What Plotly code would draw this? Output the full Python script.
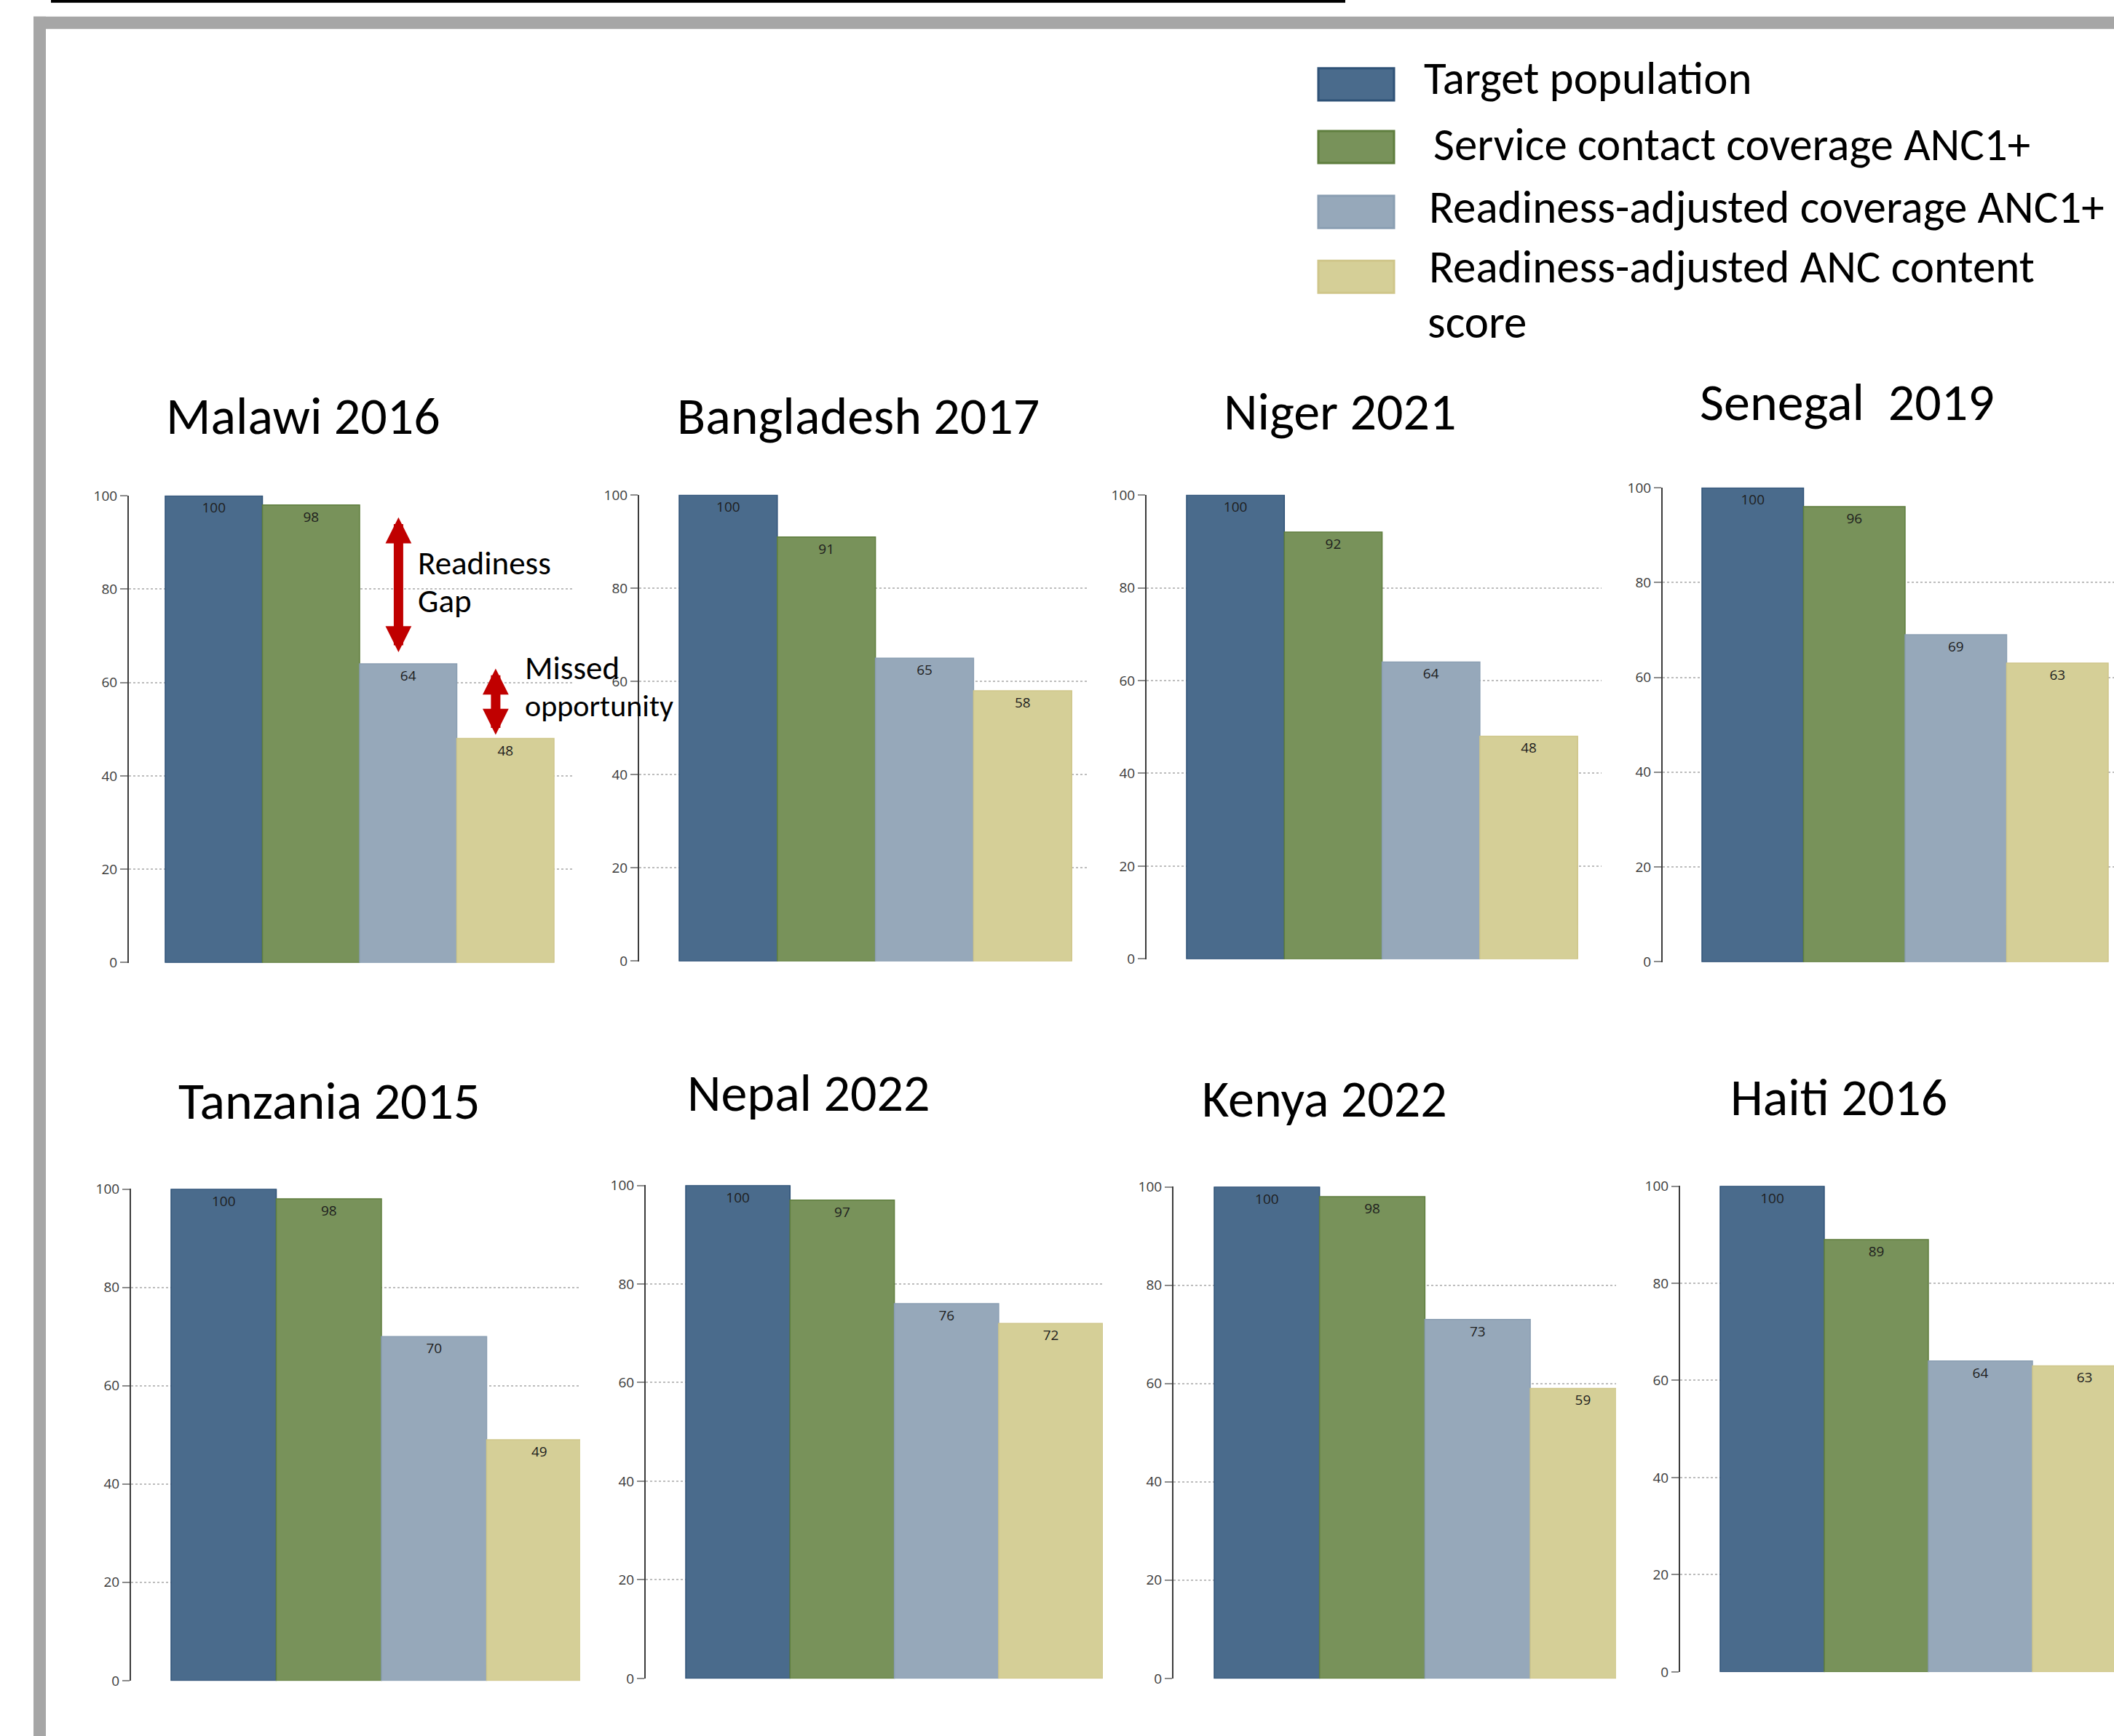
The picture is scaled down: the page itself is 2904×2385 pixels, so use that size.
import plotly.graph_objects as go

# ---------------- data ----------------
countries = ["Malawi 2016", "Bangladesh 2017", "Niger 2021", "Senegal\u00a0 2019",
             "Tanzania 2015", "Nepal 2022", "Kenya 2022", "Haiti 2016"]
series_names = ["Target population", "Service contact coverage ANC1+",
                "Readiness-adjusted coverage ANC1+", "Readiness-adjusted ANC content score"]
target_population = [100, 100, 100, 100, 100, 100, 100, 100]
service_contact_anc1 = [98, 91, 92, 96, 98, 97, 98, 89]
readiness_adjusted_anc1 = [64, 65, 64, 69, 70, 76, 73, 64]
readiness_adjusted_content = [48, 58, 48, 63, 49, 72, 59, 63]
y_ticks = [0, 20, 40, 60, 80, 100]

# ---------------- styles ----------------
W, H = 2904, 2385
FONT = "Carlito, Calibri, Lato, sans-serif"
SMALL = "Open Sans, Segoe UI, sans-serif"
fills = ["#4a6b8c", "#78925a", "#96a8ba", "#d5cf97"]
edges = ["#2f5277", "#5f7e3e", "#8a9eb2", "#cfc68a"]
series_values = [target_population, service_contact_anc1,
                 readiness_adjusted_anc1, readiness_adjusted_content]

# panel geometry in pixels
panels = [
    dict(ax=177, b0=227, bw=133.5, right=787, top=681, bottom=1322, tx=416, ty=571),
    dict(ax=878, b0=933, bw=134.8, right=1493, top=680, bottom=1320, tx=1179, ty=571),
    dict(ax=1575, b0=1630, bw=134.3, right=2200, top=680, bottom=1317, tx=1840, ty=565),
    dict(ax=2284, b0=2338, bw=139.5, right=2904, top=670, bottom=1321, tx=2537, ty=552),
    dict(ax=180, b0=235, bw=144.5, right=797, top=1632, bottom=2307, tx=452, ty=1511),
    dict(ax=887, b0=942, bw=143.3, right=1515, top=1627, bottom=2304, tx=1110, ty=1500),
    dict(ax=1612, b0=1668, bw=144.7, right=2220, top=1629, bottom=2304, tx=1820, ty=1508),
    dict(ax=2308, b0=2363, bw=143.0, right=2904, top=1628, bottom=2295, tx=2526, ty=1506),
]

def px(x):
    return x / W

def py(y):
    # vertical placement, compensated for the page capture offset/scale
    return 1 - ((y - 14.3) / 0.988) / H

fig = go.Figure()
layout = {}
annotations = []
shapes = []

for i, (name, p) in enumerate(zip(countries, panels)):
    n = "" if i == 0 else str(i + 1)
    for s in range(4):
        v = series_values[s][i]
        fig.add_trace(go.Bar(
            x=[s], y=[v], width=1, name=series_names[s], legendgroup=series_names[s],
            showlegend=False,
            marker=dict(color=fills[s], line=dict(color=edges[s], width=1.5)),
            text=[v], textposition="inside", insidetextanchor="end", textangle=0,
            insidetextfont=dict(family=SMALL, size=19, color="#1e1e1e"),
            xaxis="x" + n, yaxis="y" + n, hoverinfo="name+y",
        ))
    x_left = -0.5 - (p["b0"] - p["ax"]) / p["bw"]
    x_right = x_left + (p["right"] - p["ax"]) / p["bw"]
    layout["xaxis" + n] = dict(
        domain=[px(p["ax"]), px(p["right"])], range=[x_left, x_right],
        anchor="y" + n, visible=False, fixedrange=True,
    )
    layout["yaxis" + n] = dict(
        domain=[py(p["bottom"]), py(p["top"])], range=[-0.05, 100.05],
        anchor="x" + n, tickvals=y_ticks, ticks="outside", ticklen=10,
        tickwidth=2, tickcolor="#8c8c8c",
        showline=True, linecolor="#3c3c3c", linewidth=2,
        showgrid=True, gridcolor="#bdbdbd", griddash="dot", gridwidth=1.5,
        zeroline=False, tickfont=dict(family=SMALL, size=19, color="#3a3a3a"),
        fixedrange=True,
    )
    annotations.append(dict(
        text=name, x=px(p["tx"]), y=py(p["ty"]), xref="paper", yref="paper",
        xanchor="center", yanchor="middle", showarrow=False,
        font=dict(family=FONT, size=72, color="#000000"),
    ))

# ---------------- Malawi callouts ----------------
arrow_common = dict(xref="x", yref="y", axref="x", ayref="y", text="", showarrow=True,
                    arrowside="end+start", arrowhead=2, startarrowhead=2,
                    arrowsize=0.55, startarrowsize=0.55, arrowwidth=13,
                    arrowcolor="#c00000", standoff=0, startstandoff=0)
annotations.append(dict(x=1.9, y=readiness_adjusted_anc1[0] + 2.5,
                        ax=1.9, ay=service_contact_anc1[0] - 2.4, **arrow_common))
annotations.append(dict(x=2.9, y=readiness_adjusted_content[0] + 0.8,
                        ax=2.9, ay=readiness_adjusted_anc1[0] - 0.8, **arrow_common))
for txt, x, y, size in [("Readiness", 572, 774, 45), ("Gap", 572, 826, 45),
                        ("Missed", 719, 917, 45), ("opportunity", 719, 969, 42)]:
    annotations.append(dict(text=txt, x=px(x), y=py(y), xref="paper", yref="paper",
                            xanchor="left", yanchor="middle", showarrow=False,
                            font=dict(family=FONT, size=size, color="#000000")))

# ---------------- legend (manual) ----------------
legend_rows = [
    (117, [("Target population", 1954, 109)]),
    (203, [("Service contact coverage ANC1+", 1967, 200)]),
    (292, [("Readiness-adjusted coverage ANC1+", 1961, 285)]),
    (381, [("Readiness-adjusted ANC content", 1961, 367), ("score", 1959, 443)]),
]
for s, (cy, texts) in enumerate(legend_rows):
    shapes.append(dict(type="rect", xref="paper", yref="paper",
                       x0=px(1811), x1=px(1915), y0=py(cy + 22), y1=py(cy - 22),
                       fillcolor=fills[s], line=dict(color=edges[s], width=3)))
    for txt, x, y in texts:
        annotations.append(dict(text=txt, x=px(x), y=py(y), xref="paper", yref="paper",
                                xanchor="left", yanchor="middle", showarrow=False,
                                font=dict(family=FONT, size=63, color="#000000")))

# ---------------- frame ----------------
shapes.append(dict(type="rect", xref="paper", yref="paper", layer="below",
                   x0=px(70), x1=px(1848), y0=py(5), y1=py(-20),
                   fillcolor="#000000", line=dict(width=0)))
shapes.append(dict(type="rect", xref="paper", yref="paper", layer="below",
                   x0=px(46), x1=1, y0=py(41), y1=py(24),
                   fillcolor="#a6a6a6", line=dict(width=0)))
shapes.append(dict(type="rect", xref="paper", yref="paper", layer="below",
                   x0=px(46), x1=px(63), y0=py(2420), y1=py(24),
                   fillcolor="#a6a6a6", line=dict(width=0)))

fig.update_layout(
    width=W, height=H, margin=dict(l=0, r=0, t=0, b=0),
    paper_bgcolor="#ffffff", plot_bgcolor="rgba(0,0,0,0)",
    barmode="overlay", showlegend=False,
    annotations=annotations, shapes=shapes, **layout,
)

fig.write_html("out.html")
